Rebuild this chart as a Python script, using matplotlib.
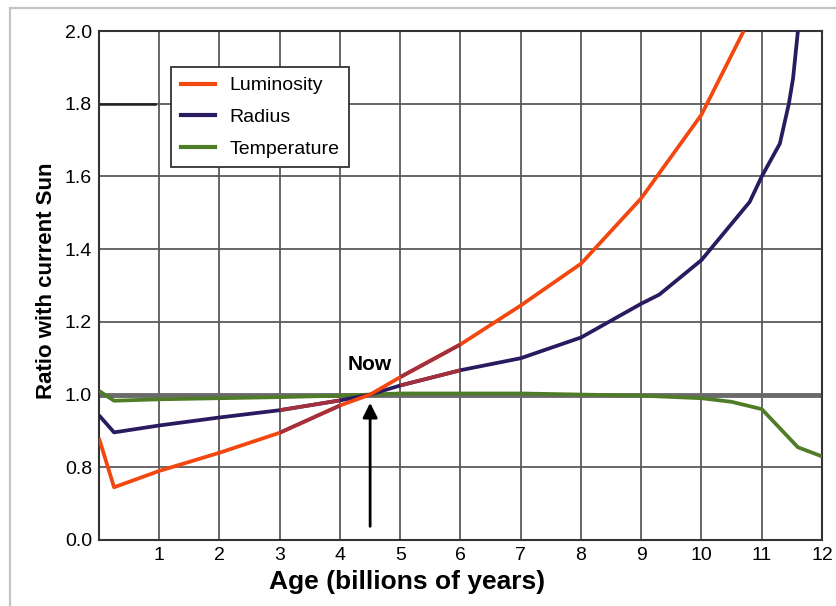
import matplotlib
matplotlib.use("Agg")
import matplotlib.pyplot as plt
from matplotlib.lines import Line2D
import numpy as np

plt.rcParams['font.family'] = ['Liberation Sans', 'DejaVu Sans']

# ages in billions of years
lum_age = [0, 0.25, 1, 2, 3, 4, 4.5, 5, 6, 7, 8, 9, 10, 10.7]
lum_val = [0.88, 0.745, 0.79, 0.84, 0.895, 0.97, 1.0, 1.048, 1.138, 1.245, 1.36, 1.54, 1.77, 2.0]

rad_age = [0, 0.25, 1, 2, 3, 4, 4.5, 5, 6, 7, 8, 9, 9.3, 10, 10.8, 11, 11.3, 11.45, 11.52, 11.6]
rad_val = [0.943, 0.896, 0.915, 0.937, 0.957, 0.984, 1.0, 1.025, 1.067, 1.10, 1.157, 1.25, 1.275,
           1.37, 1.53, 1.60, 1.69, 1.80, 1.87, 2.0]

temp_age = [0, 0.25, 1, 2, 3, 4, 4.5, 5, 6, 7, 8, 9, 10, 10.5, 11, 11.6, 12]
temp_val = [1.01, 0.983, 0.987, 0.99, 0.993, 0.997, 1.0, 1.003, 1.003, 1.003, 1.0, 0.997, 0.99,
            0.98, 0.96, 0.855, 0.83]

y_ticks = [0.6, 0.8, 1.0, 1.2, 1.4, 1.6, 1.8, 2.0]
y_labels = ['0.0', '0.8', '1.0', '1.2', '1.4', '1.6', '1.8', '2.0']
x_ticks = list(range(13))
x_labels = [''] + [str(i) for i in range(1, 13)]

c_lum = '#f2470f'
c_rad = '#2a1a60'
c_temp = '#4f7d27'
c_mix = '#a3303c'

fig = plt.figure(figsize=(8.37, 6.06), dpi=100)
ax = fig.add_axes([99 / 837, 1 - 540 / 606, 723 / 837, 509 / 606])

# grid
for x in x_ticks:
    ax.axvline(x, color='#5a5a5a', lw=1.3, zorder=1)
for y in y_ticks:
    ax.axhline(y, color='#5a5a5a', lw=1.3, zorder=1)
ax.axhline(1.0, color='#6a6a6a', lw=3.5, zorder=1)
ax.axhline(1.8, xmin=0, xmax=0.078, color='#222222', lw=1.8, zorder=1)

# curves
ax.plot(temp_age, temp_val, color=c_temp, lw=2.7, zorder=3, solid_capstyle='butt')
ax.plot(rad_age, rad_val, color=c_rad, lw=2.7, zorder=4, solid_capstyle='butt')
ax.plot(lum_age, lum_val, color=c_lum, lw=2.7, zorder=5, solid_capstyle='butt')

# blended segments where the curves were drawn in a darker red
la = np.array(lum_age)
lv = np.array(lum_val)
ra = np.array(rad_age)
rv = np.array(rad_val)
for lo, hi in [(3, 4), (5, 6)]:
    m = (la >= lo) & (la <= hi)
    ax.plot(la[m], lv[m], color=c_mix, lw=2.7, zorder=6, solid_capstyle='butt')
    m = (ra >= lo) & (ra <= hi)
    ax.plot(ra[m], rv[m], color=c_mix, lw=2.7, zorder=6, solid_capstyle='butt')

# "Now" marker
ax.text(4.49, 1.083, 'Now', ha='center', va='center', fontsize=15, fontweight='bold', zorder=7)
ax.annotate('', xy=(4.5, 0.985), xytext=(4.5, 0.63),
            arrowprops=dict(arrowstyle='-|>', color='black', lw=2, mutation_scale=22), zorder=7)

ax.set_xlim(0, 12)
ax.set_ylim(0.6, 2.0)
ax.set_xticks(x_ticks)
ax.set_xticklabels(x_labels)
ax.set_yticks(y_ticks)
ax.set_yticklabels(y_labels)
ax.tick_params(length=0, labelsize=14, pad=5)
for s in ax.spines.values():
    s.set_color('#333333')
    s.set_linewidth(1.5)

ax.set_xlabel('Age (billions of years)', fontsize=19, fontweight='bold')
ax.xaxis.set_label_coords(0.426, -0.058)
ax.set_ylabel('Ratio with current Sun', fontsize=16, fontweight='bold')
ax.yaxis.set_label_coords(-0.058, 0.51)

handles = [Line2D([], [], color=c_lum, lw=3),
           Line2D([], [], color=c_rad, lw=3),
           Line2D([], [], color=c_temp, lw=3)]
leg = ax.legend(handles, ['Luminosity', 'Radius', 'Temperature'], loc='upper left',
                bbox_to_anchor=(0.1, 0.929), borderaxespad=0, fontsize=14, fancybox=False,
                framealpha=1, edgecolor='#333333', handlelength=1.75, labelspacing=0.72,
                borderpad=0.5, handletextpad=0.75)
leg.get_frame().set_linewidth(1.3)
leg.set_zorder(10)

# light outer frame
fig.add_artist(Line2D([10 / 837, 10 / 837], [0, 1 - 8 / 606], color='#c4c4c4', lw=1.6,
                      transform=fig.transFigure))
fig.add_artist(Line2D([10 / 837, 1], [1 - 8 / 606, 1 - 8 / 606], color='#c4c4c4', lw=1.6,
                      transform=fig.transFigure))

fig.savefig('out.png', dpi=100)
